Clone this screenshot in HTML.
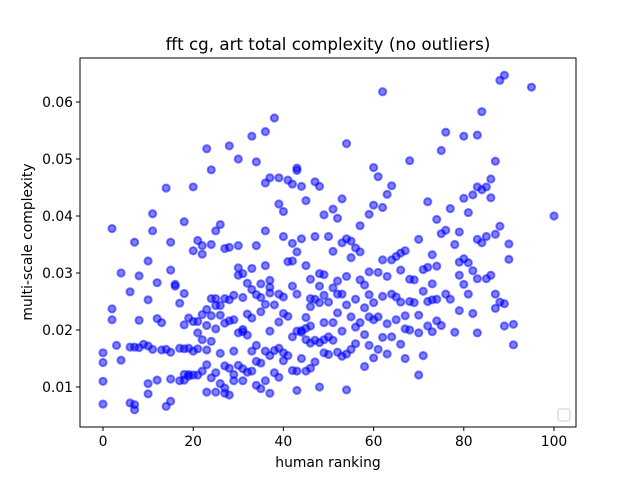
<!DOCTYPE html>
<html><head><meta charset="utf-8"><style>body{margin:0;background:#fff}svg{font-family:"DejaVu Sans","Liberation Sans",sans-serif}</style></head>
<body>
<svg id="chart" width="640" height="480">
<rect width="640" height="480" fill="#fff"/>
<text x="328" y="50" font-size="16.7" text-anchor="middle">fft cg, art total complexity (no outliers)</text>
<g id="marks"></g>
<rect x="80" y="58" width="496" height="369" fill="none" stroke="#000" stroke-width="1"/>
<g id="xticks"></g><g id="yticks"></g>
<text x="328" y="467" font-size="13.9" text-anchor="middle">human ranking</text>
<text transform="translate(32,242) rotate(-90)" font-size="13.9" text-anchor="middle">multi-scale complexity</text>
<rect x="558" y="409" width="12" height="12" rx="2" fill="#fff" stroke="#ccc"/>
</svg>
<script>
const rankGroups=[0,2,3,4,6,7,8,9,10,11,12,13,14,15,16,17,18,19,20,21,22,23,24,25,26,27,28,29,30,31,32,33,34,35,36,37,38,39,40,41,42,43,44,45,46,47,48,49,50,51,52,53,54,55,56,57,58,59,60,61,62,63,64,65,66,67,68,69,70,71,72,73,74,75,76,77,78,79,80,81,82,83,84,85,86,87,88,89,90,91,95,100];
const complexityGroups=[
[0.016,0.0143,0.011,0.007],[0.0378,0.0237,0.0218],[0.0173],[0.030,0.0147],[0.0267,0.017,0.0072],[0.0354,0.017,0.006,0.0069],[0.0217,0.0295,0.0169],[0.0175],[0.0321,0.0253,0.0088,0.0106,0.0172],[0.0404,0.0374,0.0166],[0.0283,0.0112,0.022],[0.0213,0.0165],[0.0449,0.0066,0.0166],[0.0354,0.0305,0.0161,0.0075,0.0114],[0.028,0.0277],[0.0111,0.0247,0.0168],[0.039,0.0167,0.0264,0.0112,0.0209,0.0122],[0.0221,0.0168,0.0122,0.0119],[0.0451,0.0215,0.0121,0.0163,0.0339],[0.0357,0.0215,0.0195,0.0121,0.0167],[0.0348,0.0227,0.0183,0.0128,0.0333],[0.0518,0.0236,0.0139,0.0208,0.0091,0.0165],[0.0481,0.0255,0.0225,0.035,0.018,0.0116],[0.0374,0.0255,0.0243,0.0202,0.0125,0.0091],[0.0385,0.0243,0.0226,0.0159,0.0106],[0.0343,0.0255,0.0212,0.0137,0.0098,0.0089],[0.0523,0.0253,0.0216,0.0133,0.0086,0.0345],[0.0261,0.0218,0.0163,0.0122,0.0111],[0.05,0.0348,0.0309,0.0296,0.0195,0.0138],[0.0299,0.0257,0.0201,0.0132,0.0111,0.0197],[0.0282,0.0228,0.0191,0.0126],[0.054,0.0271,0.0221,0.0163,0.0128,0.0308],[0.0495,0.0348,0.0262,0.0173,0.0103,0.0145],[0.0281,0.0232,0.0142,0.0097,0.0257],[0.0548,0.0374,0.0458,0.0313,0.0245,0.0163,0.0111],[0.0467,0.0287,0.0275,0.0198,0.0089,0.0155,0.0265],[0.0572,0.0244,0.0164,0.0125],[0.0421,0.0467,0.0263,0.0214,0.0168,0.0117],[0.0408,0.0364,0.0258,0.0229,0.016,0.0146],[0.0463,0.0320,0.0224,0.0155],[0.0456,0.0352,0.0277,0.0188,0.0129,0.0321],[0.0484,0.0480,0.0337,0.0263,0.0198,0.0128,0.0094],[0.0452,0.0360,0.0199,0.0196,0.0150],[0.0427,0.0313,0.0222,0.0183,0.0203,0.0128],[0.0289,0.0255,0.0177,0.0133,0.0241,0.0207],[0.046,0.0364,0.0254,0.0182,0.0144],[0.0452,0.0299,0.0277,0.0248,0.0178,0.0100],[0.0402,0.0297,0.0183,0.0213,0.0160,0.0261],[0.0364,0.0249,0.0188,0.0157],[0.0412,0.0338,0.0274,0.0213,0.0182],[0.0396,0.0286,0.0263,0.0230,0.0161],[0.043,0.0353,0.0263,0.0198,0.0154],[0.0527,0.0360,0.0294,0.0244,0.0158,0.0095],[0.0356,0.0327,0.0223,0.0166],[0.0344,0.0254,0.0205,0.0176],[0.0383,0.0337,0.0288,0.0213],[0.0279,0.0239,0.0192,0.0136],[0.0403,0.0302,0.0262,0.0223,0.0173],[0.0485,0.0419,0.0248,0.0218,0.0151],[0.0469,0.0301,0.0223,0.0166],[0.0618,0.0415,0.0323,0.0259,0.0187],[0.0438,0.0294,0.0211,0.0158],[0.0453,0.0323,0.0263,0.0188],[0.0329,0.0258,0.0218],[0.0335,0.0249,0.0175,0.0305],[0.0339,0.0202,0.0150,0.0225],[0.0497,0.0289,0.0250,0.0200],[0.0288,0.0248],[0.0359,0.0226,0.0195,0.0121],[0.0306,0.0268,0.0155],[0.0425,0.0310,0.0250,0.0207],[0.0332,0.0281,0.0253,0.0197],[0.0394,0.0312,0.0254,0.0216],[0.0515,0.0369,0.0208],[0.0547,0.0375,0.0263],[0.0413,0.0254],[0.0196,0.0350],[0.0372,0.0319,0.0296,0.0234],[0.054,0.0431,0.0325,0.0280],[0.0406,0.0318,0.0263],[0.0437,0.0304,0.0229],[0.0542,0.0451,0.0359,0.0290,0.0195],[0.0583,0.0446,0.0353],[0.0451,0.0364,0.0290],[0.0465,0.0432,0.0296],[0.0496,0.0368,0.0238,0.0263],[0.0638,0.0382,0.0249],[0.0647,0.0246,0.0207],[0.0351,0.0324],[0.0210,0.0174],[0.0626],[0.0400]];
const xTickValues=[0,20,40,60,80,100];
const yTickValues=[0.01,0.02,0.03,0.04,0.05,0.06];
const yTickLabels=["0.01","0.02","0.03","0.04","0.05","0.06"];
const NS="http://www.w3.org/2000/svg";
function xs(v){return 103+v*4.51;}
function ys(v){return 387-(v-0.01)*5700;}
const marks=document.getElementById('marks');
rankGroups.forEach((r,i)=>{complexityGroups[i].forEach((v,j)=>{
 const c=document.createElementNS(NS,'circle');
 c.setAttribute('cx',xs(r));c.setAttribute('cy',ys(v));c.setAttribute('r',3.6);
 c.setAttribute('fill','rgba(0,0,255,0.5)');c.setAttribute('stroke','rgba(0,0,255,0.5)');c.setAttribute('stroke-width',2);
 
 
 marks.appendChild(c);});});
const xt=document.getElementById('xticks');
xTickValues.forEach(v=>{
 const l=document.createElementNS(NS,'line');l.setAttribute('x1',xs(v));l.setAttribute('x2',xs(v));l.setAttribute('y1',427);l.setAttribute('y2',431);l.setAttribute('stroke','#000');
 
 
 xt.appendChild(l);
 const t=document.createElementNS(NS,'text');t.setAttribute('x',xs(v));t.setAttribute('y',446);t.setAttribute('font-size',13.9);t.setAttribute('text-anchor','middle');t.textContent=v;
 
 
 xt.appendChild(t);});
const yt=document.getElementById('yticks');
yTickValues.forEach((v,i)=>{
 const l=document.createElementNS(NS,'line');l.setAttribute('x1',76);l.setAttribute('x2',80);l.setAttribute('y1',ys(v));l.setAttribute('y2',ys(v));l.setAttribute('stroke','#000');
 
 
 yt.appendChild(l);
 const t=document.createElementNS(NS,'text');t.setAttribute('x',73);t.setAttribute('y',ys(v)+5);t.setAttribute('font-size',13.9);t.setAttribute('text-anchor','end');t.textContent=yTickLabels[i];
 
 
 yt.appendChild(t);});
</script>
</body></html>
